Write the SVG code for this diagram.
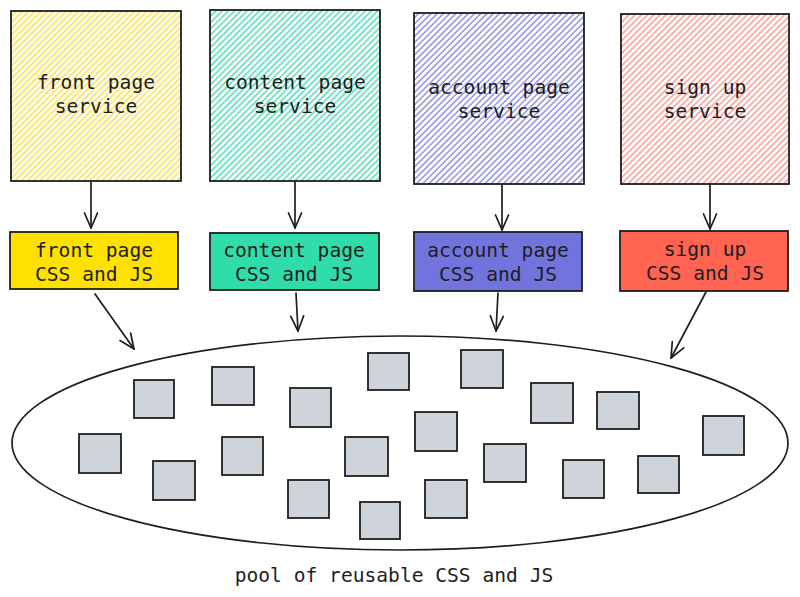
<svg xmlns="http://www.w3.org/2000/svg" width="800" height="597" viewBox="0 0 800 597">
  <defs>
    <pattern id="hY" width="4.4" height="4.4" patternUnits="userSpaceOnUse" patternTransform="rotate(-45)">
      <line x1="0" y1="2" x2="4.4" y2="2" stroke="#fde25a" stroke-width="1.7"/>
    </pattern>
    <pattern id="hT" width="4.4" height="4.4" patternUnits="userSpaceOnUse" patternTransform="rotate(-45)">
      <line x1="0" y1="2" x2="4.4" y2="2" stroke="#4edcb3" stroke-width="1.5"/>
    </pattern>
    <pattern id="hP" width="4.4" height="4.4" patternUnits="userSpaceOnUse" patternTransform="rotate(-45)">
      <line x1="0" y1="2" x2="4.4" y2="2" stroke="#8585de" stroke-width="1.4"/>
    </pattern>
    <pattern id="hR" width="4.4" height="4.4" patternUnits="userSpaceOnUse" patternTransform="rotate(-45)">
      <line x1="0" y1="2" x2="4.4" y2="2" stroke="#f79a92" stroke-width="1.5"/>
    </pattern>
    <marker id="ah" viewBox="-18 -9 20 18" refX="0" refY="0" markerWidth="20" markerHeight="18" markerUnits="userSpaceOnUse" orient="auto">
      <path d="M-15,-6.5 L0,0 L-15,6.5" fill="none" stroke="#1e1e1e" stroke-width="1.7" stroke-linecap="round" stroke-linejoin="round"/>
    </marker>
  </defs>
  <style>
    .box { stroke: #1e1e1e; stroke-width: 1.8; }
    .sq { fill: #ced4da; stroke: #1e1e1e; stroke-width: 1.8; }
    .t { font-family: "DejaVu Sans Mono", "Liberation Mono", monospace; font-size: 19.6px; fill: #1e1e1e; text-anchor: middle; }
    .c { fill: none; stroke: #1e1e1e; stroke-width: 1.7; stroke-linecap: round; }
  </style>
  <rect width="800" height="597" fill="#ffffff"/>

  <g id="connectors">
    <path class="c" d="M91,182 L91,228" marker-end="url(#ah)"/>
    <path class="c" d="M295,182 L295,228" marker-end="url(#ah)"/>
    <path class="c" d="M502,185 L502,230" marker-end="url(#ah)"/>
    <path class="c" d="M710,185 L710,229" marker-end="url(#ah)"/>
    <path class="c" d="M95,294 L134,349" marker-end="url(#ah)"/>
    <path class="c" d="M296,293 L298,331" marker-end="url(#ah)"/>
    <path class="c" d="M498,293 L496,331" marker-end="url(#ah)"/>
    <path class="c" d="M706,292 L671,358" marker-end="url(#ah)"/>
  </g>

  <g id="front-page-service">
    <rect x="11" y="11" width="170" height="170" fill="url(#hY)" class="box"/>
    <text class="t" x="96" y="89">front page</text>
    <text class="t" x="96" y="113">service</text>
  </g>
  <g id="content-page-service">
    <rect x="210" y="10" width="170" height="171" fill="url(#hT)" class="box"/>
    <text class="t" x="295" y="89">content page</text>
    <text class="t" x="295" y="113">service</text>
  </g>
  <g id="account-page-service">
    <rect x="414" y="13" width="170" height="171" fill="url(#hP)" class="box"/>
    <text class="t" x="499" y="94">account page</text>
    <text class="t" x="499" y="118">service</text>
  </g>
  <g id="sign-up-service">
    <rect x="621" y="14" width="168" height="170" fill="url(#hR)" class="box"/>
    <text class="t" x="705" y="94">sign up</text>
    <text class="t" x="705" y="118">service</text>
  </g>

  <g id="front-page-css">
    <rect x="10" y="232" width="168" height="57" fill="#ffe100" class="box"/>
    <text class="t" x="94" y="257">front page</text>
    <text class="t" x="94" y="281">CSS and JS</text>
  </g>
  <g id="content-page-css">
    <rect x="210" y="233" width="169" height="57" fill="#31dcab" class="box"/>
    <text class="t" x="294" y="257">content page</text>
    <text class="t" x="294" y="281">CSS and JS</text>
  </g>
  <g id="account-page-css">
    <rect x="414" y="232" width="168" height="59" fill="#7373dd" class="box"/>
    <text class="t" x="498" y="257">account page</text>
    <text class="t" x="498" y="281">CSS and JS</text>
  </g>
  <g id="sign-up-css">
    <rect x="620" y="231" width="168" height="60" fill="#ff6352" class="box"/>
    <text class="t" x="705" y="256">sign up</text>
    <text class="t" x="705" y="280">CSS and JS</text>
  </g>

  <g id="pool">
    <ellipse cx="400" cy="443" rx="388" ry="107" fill="#ffffff" stroke="#1e1e1e" stroke-width="1.7"/>
    <rect class="sq" x="134" y="380" width="40" height="38"/>
    <rect class="sq" x="212" y="367" width="42" height="38"/>
    <rect class="sq" x="290" y="388" width="41" height="39"/>
    <rect class="sq" x="368" y="353" width="41" height="37"/>
    <rect class="sq" x="461" y="350" width="42" height="38"/>
    <rect class="sq" x="531" y="383" width="42" height="40"/>
    <rect class="sq" x="597" y="392" width="42" height="37"/>
    <rect class="sq" x="703" y="416" width="41" height="39"/>
    <rect class="sq" x="79" y="434" width="42" height="39"/>
    <rect class="sq" x="153" y="461" width="42" height="39"/>
    <rect class="sq" x="222" y="437" width="41" height="38"/>
    <rect class="sq" x="288" y="480" width="41" height="38"/>
    <rect class="sq" x="345" y="437" width="43" height="39"/>
    <rect class="sq" x="360" y="502" width="40" height="37"/>
    <rect class="sq" x="415" y="412" width="42" height="39"/>
    <rect class="sq" x="484" y="444" width="42" height="38"/>
    <rect class="sq" x="425" y="480" width="42" height="38"/>
    <rect class="sq" x="563" y="460" width="41" height="38"/>
    <rect class="sq" x="638" y="456" width="41" height="37"/>
  </g>

  <g id="caption">
    <text class="t" x="394" y="582">pool of reusable CSS and JS</text>
  </g>
</svg>
